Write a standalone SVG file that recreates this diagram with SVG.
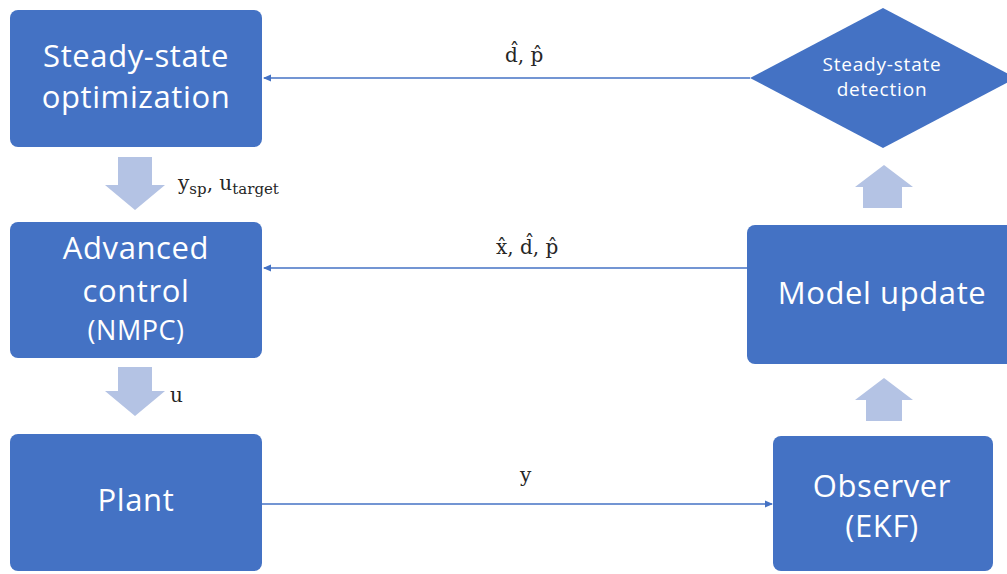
<svg xmlns="http://www.w3.org/2000/svg" width="1007" height="574" viewBox="0 0 1007 574">
  <style>
    .box { fill: #4472C4; }
    .lbl { fill: #FFFFFF; font-family: "Open Sans", "Noto Sans", sans-serif; text-anchor: middle; }
    .big { font-size: 31px; letter-spacing: 0.6px; }
    .mid { font-size: 27px; letter-spacing: 0.5px; }
    .small { font-size: 19px; letter-spacing: 0.8px; }
    .blk { fill: #B4C3E4; }
    .wire { stroke: #4472C4; stroke-width: 1.5; fill: none; marker-end: url(#tip); }
    .math { fill: #262626; font-family: "DejaVu Serif", "Liberation Serif", serif; font-size: 20px; }
    .sub { font-size: 15px; }
  </style>
  <defs>
    <marker id="tip" markerWidth="8" markerHeight="8" refX="7" refY="4" orient="auto" markerUnits="userSpaceOnUse">
      <path d="M0,0.5 L8,4 L0,7.5 Z" fill="#4472C4"/>
    </marker>
  </defs>

  <rect width="1007" height="574" fill="#FFFFFF"/>

  <!-- connectors -->
  <g id="connectors">
    <line class="wire" x1="750" y1="78" x2="264" y2="78"/>
    <line class="wire" x1="747" y1="268" x2="264" y2="268"/>
    <line class="wire" x1="262" y1="504" x2="772" y2="504"/>
    <!-- block arrows -->
    <path class="blk" d="M118,157 H152 V185 H165 L135,210 L105,185 H118 Z"/>
    <path class="blk" d="M118,367 H152 V391 H165 L135,416 L105,391 H118 Z"/>
    <path class="blk" d="M863,208 H902 V187 H913 L884,165 L855,187 H863 Z"/>
    <path class="blk" d="M866,421 H902 V400 H913 L884,378 L855,400 H866 Z"/>
  </g>

  <!-- connector labels -->
  <g id="labels">
    <text class="math" x="505" y="62">d̂, p̂</text>
    <text class="math" x="496" y="254">x̂, d̂, p̂</text>
    <text class="math" x="178" y="190">y<tspan class="sub" dy="4">sp</tspan><tspan dy="-4">, u</tspan><tspan class="sub" dy="4">target</tspan></text>
    <text class="math" x="170" y="402">u</text>
    <text class="math" x="520" y="482">y</text>
  </g>

  <g id="optimization">
    <rect class="box" x="10" y="10" width="252" height="137" rx="8"/>
    <text class="lbl big" x="136" y="67">Steady-state</text>
    <text class="lbl big" x="136" y="108">optimization</text>
  </g>

  <g id="advanced-control">
    <rect class="box" x="10" y="222" width="252" height="136" rx="8"/>
    <text class="lbl big" x="136" y="259">Advanced</text>
    <text class="lbl big" x="136" y="302">control</text>
    <text class="lbl mid" x="136" y="340">(NMPC)</text>
  </g>

  <g id="plant">
    <rect class="box" x="10" y="434" width="252" height="137" rx="8"/>
    <text class="lbl big" x="136" y="511">Plant</text>
  </g>

  <g id="detection">
    <polygon class="box" points="750,78 883,8 1016,78 883,148"/>
    <text class="lbl small" x="882" y="71">Steady-state</text>
    <text class="lbl small" x="882" y="96">detection</text>
  </g>

  <g id="model-update">
    <rect class="box" x="747" y="225" width="270" height="139" rx="8"/>
    <text class="lbl big" x="882" y="304">Model update</text>
  </g>

  <g id="observer">
    <rect class="box" x="773" y="436" width="220" height="135" rx="8"/>
    <text class="lbl big" x="882" y="497">Observer</text>
    <text class="lbl big" x="882" y="537">(EKF)</text>
  </g>
</svg>
